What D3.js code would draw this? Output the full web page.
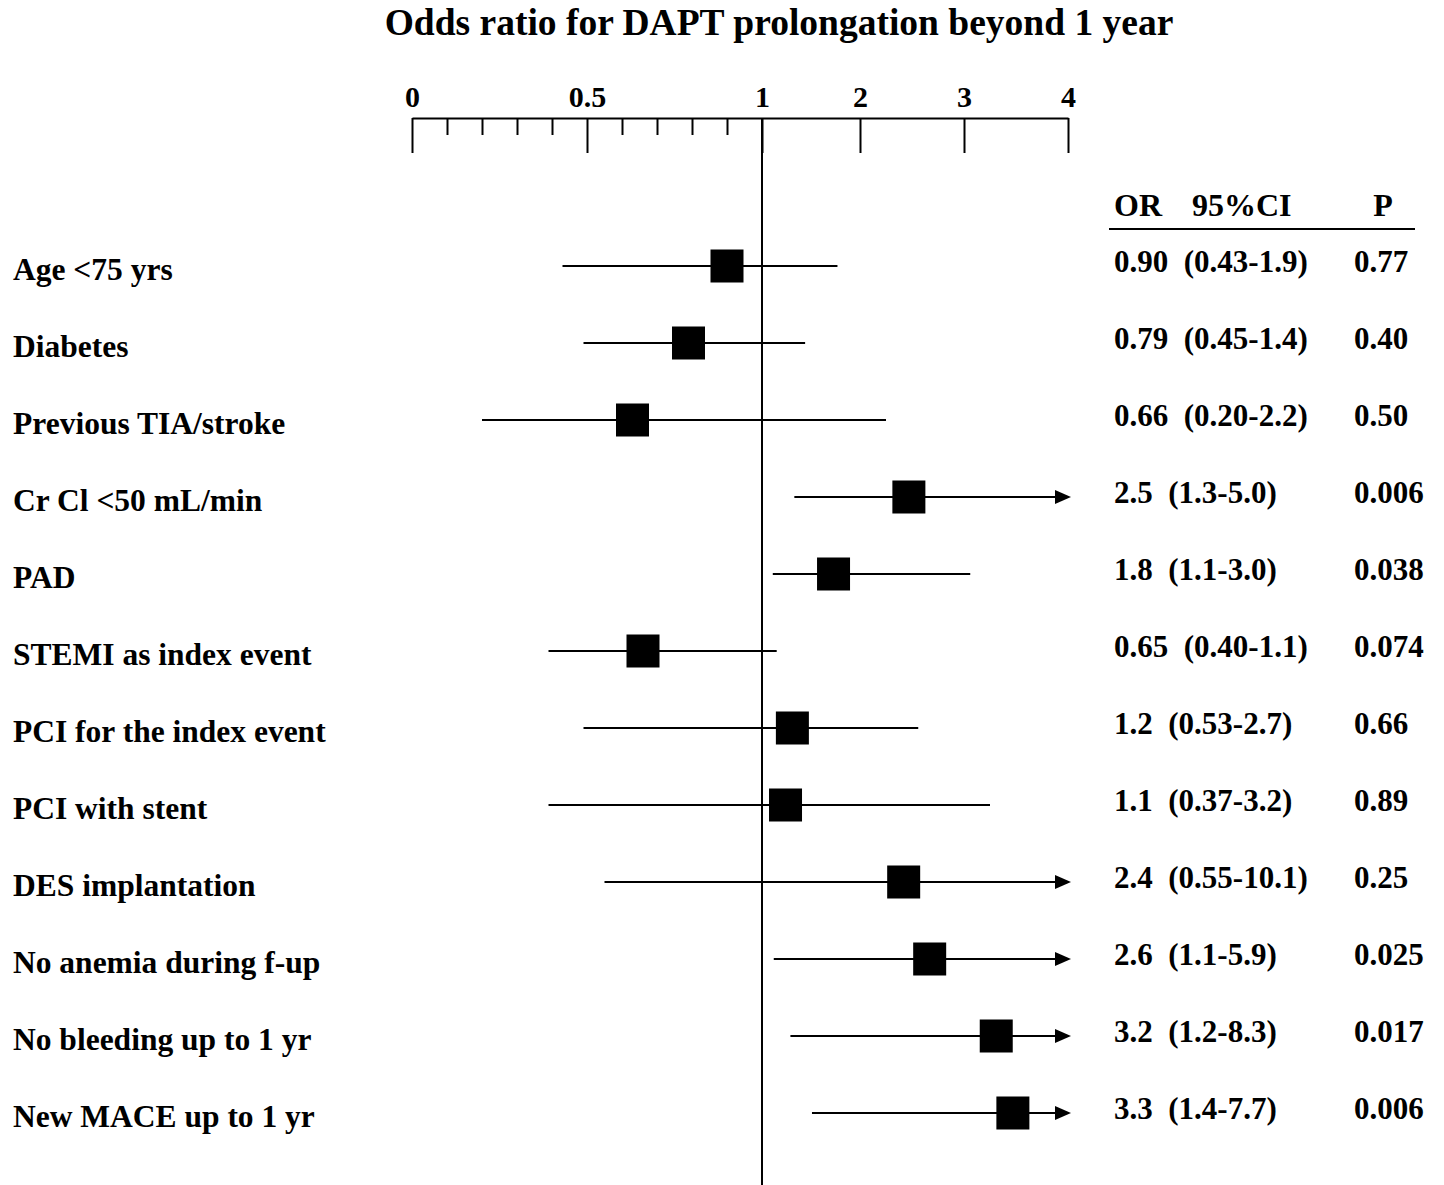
<!DOCTYPE html>
<html>
<head>
<meta charset="utf-8">
<script src="https://cdn.jsdelivr.net/npm/d3@7"></script>
<style>
  html, body { margin: 0; padding: 0; background: #fff; }
  svg text { font-family: "Liberation Serif", "Times New Roman", serif; font-weight: bold; fill: #000; white-space: pre; }
</style>
</head>
<body>
<svg id="chart" width="1444" height="1185"></svg>
<script>
// ---- data ----
const categories = [
  "Age <75 yrs",
  "Diabetes",
  "Previous TIA/stroke",
  "Cr Cl <50 mL/min",
  "PAD",
  "STEMI as index event",
  "PCI for the index event",
  "PCI with stent",
  "DES implantation",
  "No anemia during f-up",
  "No bleeding up to 1 yr",
  "New MACE up to 1 yr"
];
// plotted positions
const orPlot   = [0.90, 0.79, 0.63, 2.47, 1.73, 0.66, 1.31, 1.24, 2.42, 2.67, 3.31, 3.47];
const ciLow    = [0.43, 0.49, 0.20, 1.33, 1.11, 0.39, 0.49, 0.39, 0.55, 1.12, 1.29, 1.51];
const ciHigh   = [1.77, 1.44, 2.25, 5.0, 3.06, 1.15, 2.56, 3.25, 10.1, 5.9, 8.3, 7.7];
// table texts
const orText   = ["0.90", "0.79", "0.66", "2.5", "1.8", "0.65", "1.2", "1.1", "2.4", "2.6", "3.2", "3.3"];
const ciText   = ["(0.43-1.9)", "(0.45-1.4)", "(0.20-2.2)", "(1.3-5.0)", "(1.1-3.0)", "(0.40-1.1)",
                  "(0.53-2.7)", "(0.37-3.2)", "(0.55-10.1)", "(1.1-5.9)", "(1.2-8.3)", "(1.4-7.7)"];
const pText    = ["0.77", "0.40", "0.50", "0.006", "0.038", "0.074", "0.66", "0.89", "0.25", "0.025", "0.017", "0.006"];
const majorTicks = [0, 0.5, 1, 2, 3, 4];
const minorTicks = [0.1, 0.2, 0.3, 0.4, 0.6, 0.7, 0.8, 0.9];
const tableHeaders = ["OR", "95%CI", "P"];
const title = "Odds ratio for DAPT prolongation beyond 1 year";

// ---- scales ----
const svg = d3.select("#chart");
const x = d3.scaleLinear().domain([0, 1, 2, 3, 4]).range([412, 762, 860, 964, 1068]);
const y = d3.scalePoint().domain(d3.range(categories.length)).range([266, 1113]);
const axisY = 118;
const xMax = 4;

// title
svg.append("text").attr("x", 779).attr("y", 35).attr("text-anchor", "middle")
  .style("font-size", "37.5px").text(title);

// axis (major)
const gAxis = svg.append("g").attr("transform", `translate(0,${axisY})`);
gAxis.call(d3.axisBottom(x).tickValues(majorTicks).tickSize(35).tickSizeOuter(0).tickFormat(d => String(d)));
gAxis.select(".domain").attr("stroke", "#000").attr("stroke-width", 2);
gAxis.selectAll(".tick line").attr("stroke", "#000").attr("stroke-width", 2);
gAxis.selectAll(".tick text").attr("y", -11).attr("dy", null)
  .style("font-size", "30px").style("font-family", "'Liberation Serif', serif").style("font-weight", "bold").attr("fill", "#000");

// axis (minor)
const gMinor = svg.append("g").attr("transform", `translate(0,${axisY})`);
gMinor.call(d3.axisBottom(x).tickValues(minorTicks).tickSize(17).tickFormat(""));
gMinor.select(".domain").remove();
gMinor.selectAll(".tick line").attr("stroke", "#000").attr("stroke-width", 2);

// reference line at OR = 1
svg.append("line").attr("x1", x(1)).attr("x2", x(1)).attr("y1", axisY).attr("y2", 1185)
  .attr("stroke", "#000").attr("stroke-width", 2);

// rows
const rows = svg.append("g").selectAll("g").data(categories.map((c, i) => i)).join("g");

rows.append("line")
  .attr("x1", i => x(ciLow[i]))
  .attr("x2", i => ciHigh[i] > xMax ? x(xMax) - 4 : x(ciHigh[i]))
  .attr("y1", i => y(i)).attr("y2", i => y(i))
  .attr("stroke", "#000").attr("stroke-width", 2);

rows.filter(i => ciHigh[i] > xMax).append("path")
  .attr("d", i => {
    const tip = x(xMax) + 3, yy = y(i);
    return `M${tip},${yy} L${tip - 16},${yy - 7} L${tip - 16},${yy + 7} Z`;
  })
  .attr("fill", "#000");

const box = 33;
rows.append("rect")
  .attr("x", i => x(orPlot[i]) - box / 2)
  .attr("y", i => y(i) - box / 2)
  .attr("width", box).attr("height", box).attr("fill", "#000");

// labels
rows.append("text").attr("x", 13).attr("y", i => y(i) + 14)
  .style("font-size", "31.5px").text(i => categories[i]);

// table
rows.append("text").attr("x", 1114).attr("y", i => y(i) + 6)
  .style("font-size", "31px").text(i => orText[i] + "  " + ciText[i]);
rows.append("text").attr("x", 1354).attr("y", i => y(i) + 6)
  .style("font-size", "31px").text(i => pText[i]);

// table header
svg.append("text").attr("x", 1114).attr("y", 216).style("font-size", "32px").text(tableHeaders[0]);
svg.append("text").attr("x", 1192).attr("y", 216).style("font-size", "32px").text(tableHeaders[1]);
svg.append("text").attr("x", 1383).attr("y", 216).attr("text-anchor", "middle").style("font-size", "32px").text(tableHeaders[2]);
svg.append("line").attr("x1", 1109).attr("x2", 1415).attr("y1", 229).attr("y2", 229)
  .attr("stroke", "#000").attr("stroke-width", 2);
</script>
</body>
</html>
